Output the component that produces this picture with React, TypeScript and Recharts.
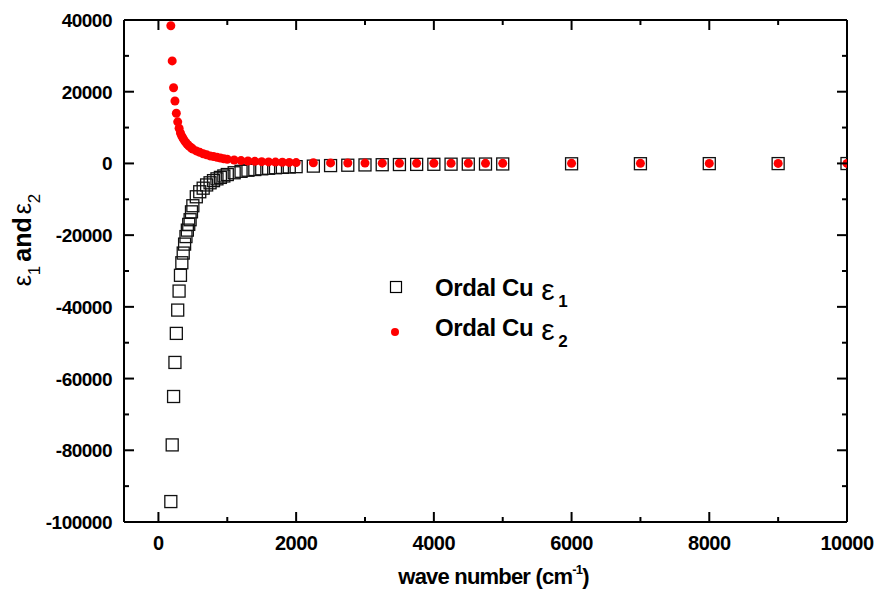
import React from "react";
import { ScatterChart, Scatter, XAxis, YAxis, Legend } from "recharts";

// wave number (cm-1)
const wavenumber = [
  180, 200, 220, 240, 260, 280, 300, 320, 340, 360, 380, 400, 420, 440, 460, 480, 500,
  550, 600, 650, 700, 750, 800, 850, 900, 950, 1000,
  1100, 1200, 1300, 1400, 1500, 1600, 1700, 1800, 1900, 2000,
  2250, 2500, 2750, 3000, 3250, 3500, 3750, 4000, 4250, 4500, 4750, 5000,
  6000, 7000, 8000, 9000, 10000,
];

const eps1 = [
  -94300, -78500, -65000, -55500, -47400, -40900, -35600, -31200, -27700, -25000, -22500, -20400, -18600, -17000, -15700, -13500, -11800,
  -9300, -7900, -6900, -6000, -5400, -4800, -4300, -3900, -3500, -3100,
  -2600, -2200, -1900, -1700, -1500, -1350, -1200, -1100, -1000, -900,
  -750, -600, -500, -420, -360, -310, -270, -240, -210, -190, -170, -150,
  -100, -75, -55, -45, -35,
];

const eps2 = [
  38400, 28600, 21100, 17400, 14000, 11600, 9800, 8500, 7600, 6900, 6300, 5800, 5300, 4900, 4600, 4300, 4000,
  3500, 3100, 2700, 2400, 2100, 1900, 1700, 1500, 1300, 1150,
  950, 800, 680, 580, 500, 430, 370, 320, 280, 240,
  180, 140, 110, 90, 75, 65, 55, 48, 42, 37, 33, 30,
  20, 15, 12, 10, 8,
];

const xTicks = [0, 1000, 2000, 3000, 4000, 5000, 6000, 7000, 8000, 9000, 10000];
const yTicks = [-100000, -90000, -80000, -70000, -60000, -50000, -40000, -30000, -20000, -10000, 0, 10000, 20000, 30000, 40000];

const FONT = '"Liberation Sans", Arial, sans-serif';
const MAJOR = 10;
const MINOR = 5;

const e1Points = wavenumber.map((w, i) => ({ x: w, y: eps1[i] }));
const e2Points = wavenumber.map((w, i) => ({ x: w, y: eps2[i] }));

function BottomTick(props: any) {
  const { x, y, payload } = props;
  const major = payload.value % 2000 === 0;
  return (
    <g>
      <line x1={x} y1={y} x2={x} y2={y - (major ? MAJOR : MINOR)} stroke="#000" strokeWidth={2} />
      {major && (
        <text x={x} y={y + 28} textAnchor="middle" fontFamily={FONT} fontWeight="bold" fontSize={20} fill="#000" letterSpacing={-0.5}>
          {payload.value}
        </text>
      )}
    </g>
  );
}

function TopTick(props: any) {
  const { x, y, payload } = props;
  const major = payload.value % 2000 === 0;
  return <line x1={x} y1={y} x2={x} y2={y + (major ? MAJOR : MINOR)} stroke="#000" strokeWidth={2} />;
}

function LeftTick(props: any) {
  const { x, y, payload } = props;
  const major = payload.value % 20000 === 0;
  return (
    <g>
      <line x1={x} y1={y} x2={x + (major ? MAJOR : MINOR)} y2={y} stroke="#000" strokeWidth={2} />
      {major && (
        <text x={x - 12} y={y + 7} textAnchor="end" fontFamily={FONT} fontWeight="bold" fontSize={19} fill="#000" letterSpacing={-0.5}>
          {payload.value}
        </text>
      )}
    </g>
  );
}

function RightTick(props: any) {
  const { x, y, payload } = props;
  const major = payload.value % 20000 === 0;
  return <line x1={x} y1={y} x2={x - (major ? MAJOR : MINOR)} y2={y} stroke="#000" strokeWidth={2} />;
}

function XTitle(props: any) {
  const { viewBox } = props;
  const cx = viewBox.x + viewBox.width / 2 + 8;
  return (
    <text x={cx} y={viewBox.y + 62} textAnchor="middle" fontFamily={FONT} fontWeight="bold" fontSize={22} fill="#000" letterSpacing={-0.8}>
      wave number (cm
      <tspan fontSize={13} dy={-10}>-1</tspan>
      <tspan dy={10}>)</tspan>
    </text>
  );
}

function YTitle() {
  const tx = 31;
  const ty = 240;
  return (
    <text transform={`translate(${tx},${ty}) rotate(-90)`} textAnchor="middle" fontFamily={FONT} fontSize={25} fill="#000">
      ε
      <tspan fontSize={17} dy={9}>1</tspan>
      <tspan dy={-9} fontWeight="bold" dx={4}>and</tspan>
      <tspan dx={3}>ε</tspan>
      <tspan fontSize={17} dy={9}>2</tspan>
    </text>
  );
}

function LegendBox() {
  return (
    <svg width={240} height={90}>
      <rect x={10.5} y={11.5} width={11} height={11} fill="none" stroke="#000" strokeWidth={1.2} />
      <circle cx={15} cy={62} r={4} fill="#ff0000" />
      <text x={55} y={26} fontFamily={FONT} fontWeight="bold" fontSize={24} fill="#000" letterSpacing={-0.4}>
        Ordal Cu
        <tspan fontWeight="normal" fontSize={30} dx={8} dy={4}>ε</tspan>
        <tspan fontSize={17} dx={4} dy={7}>1</tspan>
      </text>
      <text x={55} y={66} fontFamily={FONT} fontWeight="bold" fontSize={24} fill="#000" letterSpacing={-0.4}>
        Ordal Cu
        <tspan fontWeight="normal" fontSize={30} dx={8} dy={4}>ε</tspan>
        <tspan fontSize={17} dx={4} dy={7}>2</tspan>
      </text>
    </svg>
  );
}

function SquareMark(props: any) {
  const { cx, cy } = props;
  return <rect x={cx - 6} y={cy - 6} width={12} height={12} fill="none" stroke="#111" strokeWidth={1.3} />;
}

function DotMark(props: any) {
  const { cx, cy } = props;
  return <circle cx={cx} cy={cy} r={4.5} fill="#ff0000" />;
}

export default function App() {
  return (
    <div style={{ position: "absolute", left: 0, top: 0, background: "#fff" }}>
      <ScatterChart width={881} height={594} margin={{ top: 19, right: 33, bottom: 0, left: 0 }}>
        <XAxis
          xAxisId="bottom"
          type="number"
          dataKey="x"
          domain={[-500, 10000]}
          ticks={xTicks}
          interval={0}
          allowDataOverflow
          height={72}
          tickSize={0}
          tickMargin={0}
          tickLine={false}
          stroke="#000"
          axisLine={{ stroke: "#000", strokeWidth: 2 }}
          tick={BottomTick}
          label={{ content: XTitle }}
        />
        <XAxis
          xAxisId="top"
          orientation="top"
          type="number"
          dataKey="x"
          domain={[-500, 10000]}
          ticks={xTicks}
          interval={0}
          allowDataOverflow
          height={1}
          tickSize={0}
          tickMargin={0}
          tickLine={false}
          stroke="#000"
          axisLine={{ stroke: "#000", strokeWidth: 2 }}
          tick={TopTick}
        />
        <YAxis
          yAxisId="left"
          type="number"
          dataKey="y"
          domain={[-100000, 40000]}
          ticks={yTicks}
          interval={0}
          allowDataOverflow
          width={124}
          tickSize={0}
          tickMargin={0}
          tickLine={false}
          stroke="#000"
          axisLine={{ stroke: "#000", strokeWidth: 2 }}
          tick={LeftTick}
          label={{ content: YTitle }}
        />
        <YAxis
          yAxisId="right"
          orientation="right"
          type="number"
          dataKey="y"
          domain={[-100000, 40000]}
          ticks={yTicks}
          interval={0}
          allowDataOverflow
          width={1}
          tickSize={0}
          tickMargin={0}
          tickLine={false}
          stroke="#000"
          axisLine={{ stroke: "#000", strokeWidth: 2 }}
          tick={RightTick}
        />
        <Scatter
          name="Ordal Cu ε1"
          data={e1Points}
          xAxisId="bottom"
          yAxisId="left"
          shape={SquareMark}
          isAnimationActive={false}
        />
        <Scatter
          name="Ordal Cu ε2"
          data={e2Points}
          xAxisId="bottom"
          yAxisId="left"
          shape={DotMark}
          isAnimationActive={false}
        />
        <Legend
          layout="vertical"
          align="center"
          verticalAlign="middle"
          content={LegendBox}
          wrapperStyle={{ left: 380, top: 270, width: 240, height: 90 }}
        />
      </ScatterChart>
    </div>
  );
}
